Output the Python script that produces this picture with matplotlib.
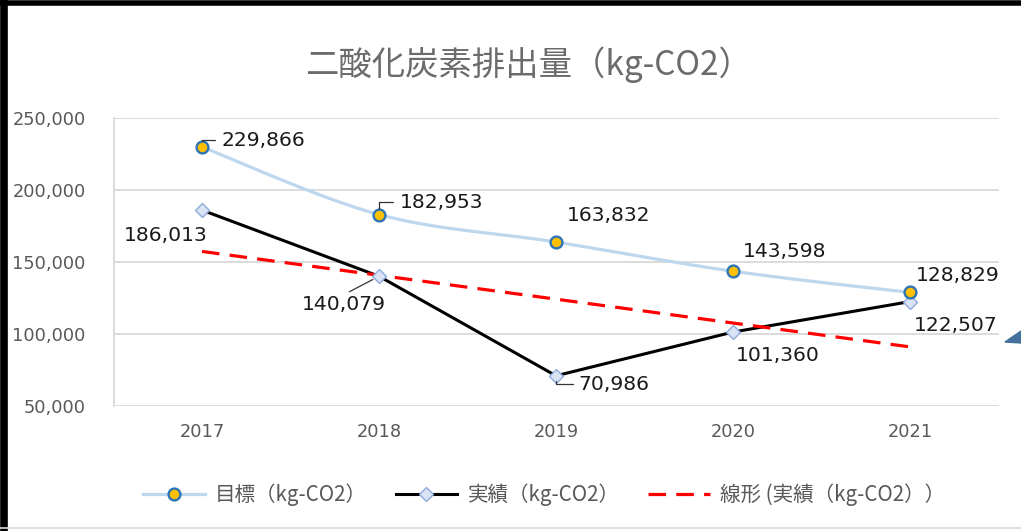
import numpy as np
import matplotlib.pyplot as plt
from matplotlib.lines import Line2D
from matplotlib.patches import Polygon

# data
years = ['2017', '2018', '2019', '2020', '2021']
target = [229866, 182953, 163832, 143598, 128829]
actual = [186013, 140079, 70986, 101360, 122507]
y_ticks = [50000, 100000, 150000, 200000, 250000]

title = '二酸化炭素排出量（kg-CO2）'
name_target = '目標（kg-CO2）'
name_actual = '実績（kg-CO2）'
name_trend = '線形 (実績（kg-CO2））'

plt.rcParams['font.family'] = ['Noto Sans CJK JP', 'DejaVu Sans']

fig = plt.figure(figsize=(10.21, 5.31), dpi=100)
ax = fig.add_axes([0.1112, 0.2354, 0.8668, 0.5424])

x = np.arange(len(years))


# Excel-like smoothed line: cubic bezier through the points, done in pixel-ish units
def smooth(xs, ys, sx, sy, n=30):
    pts = np.column_stack([np.asarray(xs, float) * sx, np.asarray(ys, float) * sy])
    ext = np.vstack([pts[0], pts, pts[-1]])
    out = []
    for i in range(len(pts) - 1):
        p0, p1, p2, p3 = ext[i], ext[i + 1], ext[i + 2], ext[i + 3]
        c1 = p1 + (p2 - p0) / 6
        c2 = p2 - (p3 - p1) / 6
        t = np.linspace(0, 1, n)[:, None]
        seg = (1 - t) ** 3 * p1 + 3 * (1 - t) ** 2 * t * c1 + 3 * (1 - t) * t ** 2 * c2 + t ** 3 * p2
        out.append(seg if i == 0 else seg[1:])
    out = np.vstack(out)
    return out[:, 0] / sx, out[:, 1] / sy


c_target_line = '#BDD7EE'
c_target_face = '#FFC000'
c_target_edge = '#2E75B6'
c_act_face = '#DAE3F3'
c_act_edge = '#8FAADC'

tx, ty = smooth(x, target, 177, 72 / 50000)
ax.plot(tx, ty, color=c_target_line, lw=2.3, zorder=2, solid_capstyle='round')
ax.plot(x, target, ls='none', marker='o', ms=8.5, mfc=c_target_face,
        mec=c_target_edge, mew=1.7, zorder=6)

coef = np.polyfit(x, actual, 1)
ax.plot(x, actual, color='black', lw=2.2, zorder=3)
ax.plot(x, np.polyval(coef, x), color='#FF0000', lw=2.3, ls=(0, (5.5, 3.2)), zorder=4)
ax.plot(x, actual, ls='none', marker='D', ms=7.5, mfc=c_act_face, mec=c_act_edge,
        mew=1.0, zorder=5)

ax.set_xlim(-0.5, len(years) - 0.5)
ax.set_ylim(50000, 250000)
ax.set_xticks(x)
ax.set_xticklabels(years)
ax.set_yticks(y_ticks)
ax.set_yticklabels([f'{v:,}' for v in y_ticks])
for s in ['top', 'right', 'bottom']:
    ax.spines[s].set_visible(False)
ax.spines['left'].set_color('#D9D9D9')
ax.spines['left'].set_linewidth(1.3)
ax.grid(axis='y', color='#D9D9D9', lw=1.3)
ax.set_axisbelow(True)
ax.tick_params(length=0, colors='#595959')
ax.tick_params(axis='y', pad=20)
ax.tick_params(axis='x', pad=12)
for lab in ax.get_xticklabels() + ax.get_yticklabels():
    lab.set_fontfamily('DejaVu Sans')
    lab.set_fontsize(12.8)

# data labels (offsets in points)
lab_kw = dict(textcoords='offset points', fontsize=14.6, color='#1a1a1a',
              family='DejaVu Sans', va='center', zorder=7)
leader_angle = dict(arrowstyle='-', color='#333333', lw=0.9,
                    connectionstyle='angle,angleA=180,angleB=90,rad=0',
                    shrinkA=3, shrinkB=4, relpos=(0, 0.5))

target_offsets = [(14, 5), (15, 9), (8, 19), (7, 14), (4, 12)]
target_leader = [True, True, False, False, False]
for i, v in enumerate(target):
    ax.annotate(f'{v:,}', (x[i], v), xytext=target_offsets[i], ha='left',
                arrowprops=leader_angle if target_leader[i] else None, **lab_kw)

actual_offsets = [(4, -18), (5, -20), (16, -6), (2, -17), (3, -17)]
actual_ha = ['right', 'right', 'left', 'left', 'left']
for i, v in enumerate(actual):
    ap = None
    if i == 1:
        ap = dict(arrowstyle='-', color='#333333', lw=0.9, shrinkA=0, shrinkB=5,
                  relpos=(0.5, 1.0))
    elif i == 2:
        ap = dict(arrowstyle='-', color='#333333', lw=0.9,
                  connectionstyle='angle,angleA=180,angleB=90,rad=0',
                  shrinkA=2, shrinkB=4, relpos=(0, 0.5))
    ax.annotate(f'{v:,}', (x[i], v), xytext=actual_offsets[i], ha=actual_ha[i],
                arrowprops=ap, **lab_kw)

fig.text(0.518, 1 - 65 / 531, title, ha='center', va='center', fontsize=24,
         color='#6b6b6b')

handles = [
    Line2D([], [], color=c_target_line, lw=2.3, marker='o', ms=8.5, mfc=c_target_face,
           mec=c_target_edge, mew=1.7),
    Line2D([], [], color='black', lw=2.2, marker='D', ms=7.5, mfc=c_act_face,
           mec=c_act_edge, mew=1.0),
    Line2D([], [], color='#FF0000', lw=2.3, ls=(0, (5.5, 3.2))),
]
leg = fig.legend(handles, [name_target, name_actual, name_trend], ncol=3,
                 loc='center', bbox_to_anchor=(0.533, 1 - 495 / 531), frameon=False,
                 fontsize=14.8, handlelength=3.0, handletextpad=0.5, columnspacing=1.4)
for t in leg.get_texts():
    t.set_color('#595959')

# screenshot frame: black border top/left, thin gray line at bottom, blue triangle at right
fig.add_artist(Line2D([0.0035, 0.0035], [0, 1], color='black', lw=5.5, transform=fig.transFigure))
fig.add_artist(Line2D([0, 1], [0.995, 0.995], color='black', lw=4, transform=fig.transFigure))
fig.add_artist(Line2D([0, 1], [3 / 531, 3 / 531], color='#D9D9D9', lw=1.2, transform=fig.transFigure))
fig.add_artist(Polygon([[1005 / 1021, 1 - 342 / 531], [1.0, 1 - 331 / 531], [1.0, 1 - 343 / 531]],
                       closed=True, color='#41719C', transform=fig.transFigure))

fig.savefig('out.png', dpi=100)
